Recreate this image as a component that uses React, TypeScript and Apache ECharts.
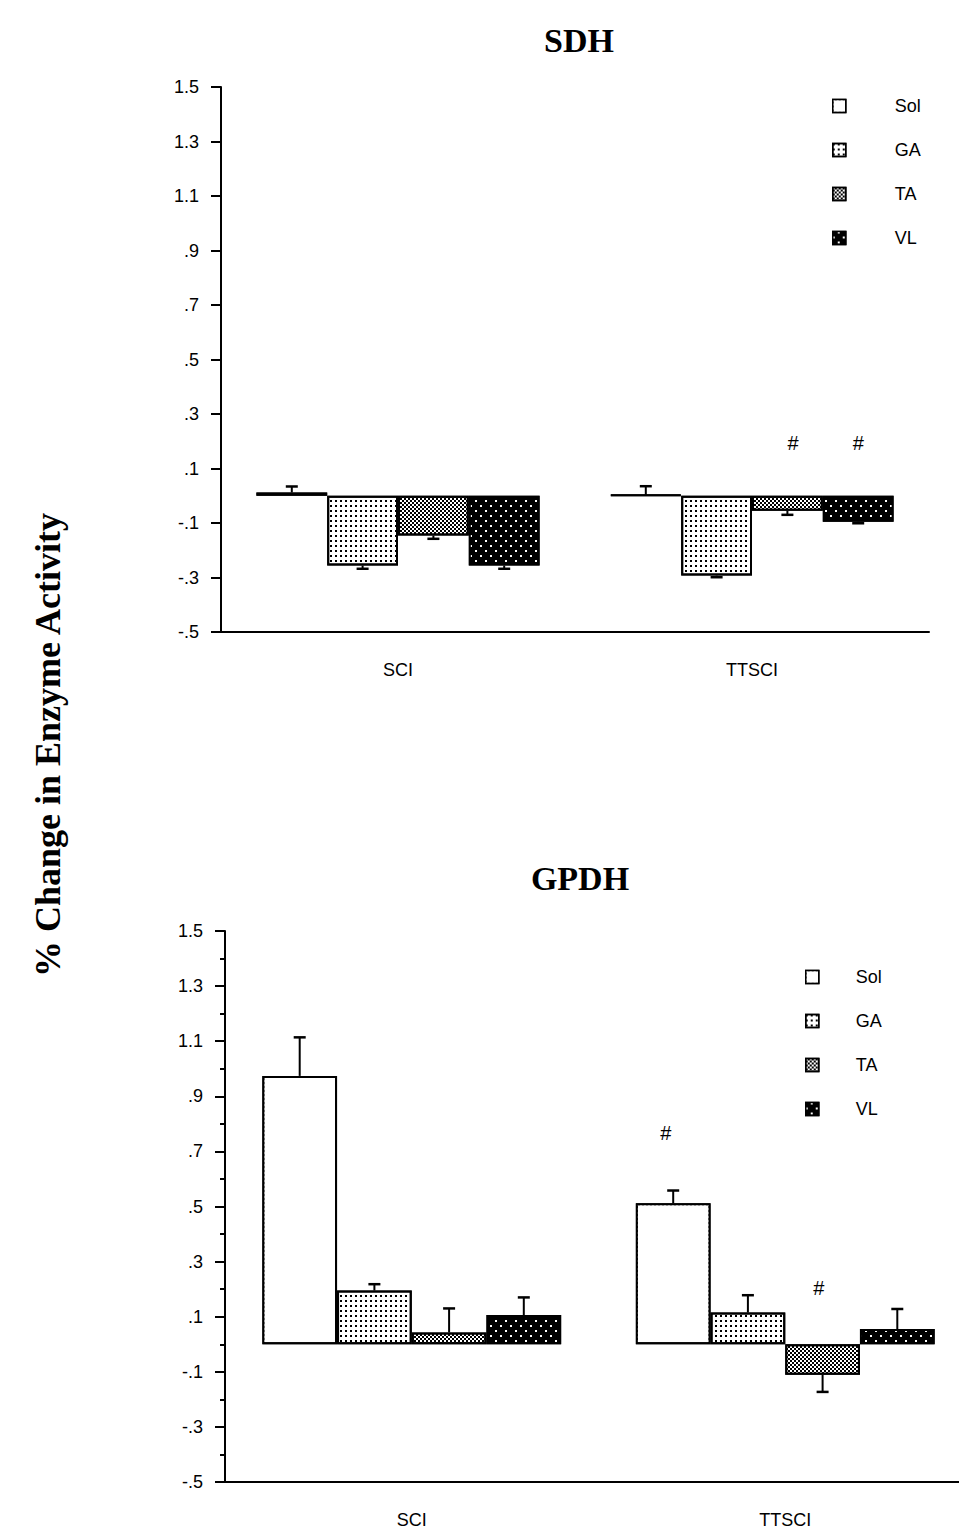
import React, { useEffect, useRef } from "react";
import * as echarts from "echarts";

const categories = ["SCI", "TTSCI"];
const muscles = ["Sol", "GA", "TA", "VL"];

// SDH (top panel)
const sdhSol = [0.012, 0.003];
const sdhGA = [-0.256, -0.293];
const sdhTA = [-0.146, -0.055];
const sdhVL = [-0.256, -0.095];
const sdhSolErr = [0.022, 0.032];
const sdhGAErr = [0.012, 0.006];
const sdhTAErr = [0.012, 0.015];
const sdhVLErr = [0.012, 0.006];
// [category index, bar slot (muscle index), y]
const sdhHash = [
  [1, 2.08, 0.195],
  [1, 3.0, 0.195],
];

// GPDH (bottom panel)
const gpdhSol = [0.974, 0.512];
const gpdhGA = [0.195, 0.115];
const gpdhTA = [0.043, -0.111];
const gpdhVL = [0.106, 0.055];
const gpdhSolErr = [0.14, 0.046];
const gpdhGAErr = [0.023, 0.063];
const gpdhTAErr = [0.087, 0.062];
const gpdhVLErr = [0.064, 0.073];
const gpdhHash = [
  [1, -0.1, 0.767],
  [1, 1.95, 0.205],
];

const SANS = "'Liberation Sans', Arial, Helvetica, sans-serif";
const SERIF = "'Liberation Serif', 'Times New Roman', serif";

const fills = ["#ffffff", "#ffffff", "#ffffff", "#000000"];
const decals: any[] = [
  { symbol: "rect", symbolSize: 1, dashArrayX: [2, 2], dashArrayY: [2, 2], color: "#fff", backgroundColor: "#fff", rotation: 0 },
  { symbol: "rect", symbolSize: 1, dashArrayX: [2, 3], dashArrayY: [2, 3], color: "#000", backgroundColor: "#fff", rotation: 0 },
  { symbol: "rect", symbolSize: 1, dashArrayX: [[2, 2], [0, 2, 2, 0]], dashArrayY: [2, 0], color: "#000", backgroundColor: "#fff", rotation: 0 },
  { symbol: "rect", symbolSize: 1, dashArrayX: [[2, 8], [0, 5, 2, 3]], dashArrayY: [2, 3], color: "#fff", backgroundColor: "#000", rotation: 0 },
];

const fmt = (v: number) => {
  const r = Math.round(v * 10) / 10;
  return r.toFixed(1).replace(/^(-?)0\./, "$1.");
};

const BAR_RATIO = 0.8;

function errData(vals: number[][], errs: number[][]) {
  const out: number[][] = [];
  for (let m = 0; m < vals.length; m++) {
    for (let c = 0; c < vals[m].length; c++) {
      out.push([c, vals[m][c], errs[m][c], m]);
    }
  }
  return out;
}

function errRender(params: any, api: any) {
  const cat = api.value(0);
  const v = api.value(1);
  const e = api.value(2);
  const m = api.value(3);
  const base = api.coord([cat, v]);
  const bw = api.size([1, 0])[0];
  const barW = (bw * BAR_RATIO) / 4;
  const x = base[0] + (m - 1.5) * barW;
  const end = api.coord([cat, v + (v >= 0 ? e : -e)]);
  return {
    type: "group",
    children: [
      { type: "line", shape: { x1: x, y1: base[1], x2: x, y2: end[1] }, style: { stroke: "#000", lineWidth: 2 } },
      { type: "line", shape: { x1: x - 6, y1: end[1], x2: x + 6, y2: end[1] }, style: { stroke: "#000", lineWidth: 2.5 } },
    ],
  };
}

function hashRender(params: any, api: any) {
  const cat = api.value(0);
  const m = api.value(1);
  const y = api.value(2);
  const p = api.coord([cat, y]);
  const bw = api.size([1, 0])[0];
  const barW = (bw * BAR_RATIO) / 4;
  const x = p[0] + (m - 1.5) * barW;
  return {
    type: "text",
    x,
    y: p[1],
    style: { text: "#", fill: "#000", font: `20px ${SANS}`, align: "center", verticalAlign: "middle" },
  };
}

export default function App() {
  const ref = useRef<HTMLDivElement>(null);
  useEffect(() => {
    if (!ref.current) return;
    const chart = echarts.init(ref.current, undefined, { renderer: "svg" });

    const grids = [
      { left: 221, top: 87, width: 708, height: 545 },
      { left: 225, top: 931, width: 747, height: 551 },
    ];

    const xAxes = grids.map((_, i) => ({
      type: "category",
      gridIndex: i,
      data: categories,
      axisLine: { onZero: false, lineStyle: { color: "#000", width: 2 } },
      axisTick: { alignWithLabel: true, length: 8, lineStyle: { color: "#000", width: 2 } },
      axisLabel: { color: "#000", fontSize: 18, fontFamily: SANS, margin: 29 },
      splitLine: { show: false },
    }));

    const yAxes = grids.map((_, i) => ({
      type: "value",
      gridIndex: i,
      min: -0.5,
      max: 1.5,
      interval: 0.2,
      axisLine: { show: true, lineStyle: { color: "#000", width: 2 } },
      axisTick: { show: true, length: 10, lineStyle: { color: "#000", width: 2 } },
      minorTick: i === 1 ? { show: true, splitNumber: 2, length: 5, lineStyle: { color: "#000", width: 2 } } : { show: false },
      axisLabel: { color: "#000", fontSize: 18, fontFamily: SANS, margin: 22, formatter: fmt },
      splitLine: { show: false },
      minorSplitLine: { show: false },
    }));

    const panelVals = [
      [sdhSol, sdhGA, sdhTA, sdhVL],
      [gpdhSol, gpdhGA, gpdhTA, gpdhVL],
    ];
    const panelErrs = [
      [sdhSolErr, sdhGAErr, sdhTAErr, sdhVLErr],
      [gpdhSolErr, gpdhGAErr, gpdhTAErr, gpdhVLErr],
    ];
    const panelHash = [sdhHash, gpdhHash];

    const series: any[] = [];
    for (let g = 0; g < 2; g++) {
      muscles.forEach((name, m) => {
        series.push({
          type: "bar",
          name,
          xAxisIndex: g,
          yAxisIndex: g,
          data: panelVals[g][m],
          barGap: "0%",
          barCategoryGap: "20%",
          itemStyle: { color: fills[m], borderColor: "#000", borderWidth: 2, decal: decals[m] },
          emphasis: { disabled: true },
        });
      });
      series.push({
        type: "custom",
        name: "err" + g,
        xAxisIndex: g,
        yAxisIndex: g,
        z: 5,
        encode: { x: 0, y: 1 },
        data: errData(panelVals[g], panelErrs[g]),
        renderItem: errRender,
        silent: true,
      });
      series.push({
        type: "custom",
        name: "hash" + g,
        xAxisIndex: g,
        yAxisIndex: g,
        z: 5,
        encode: { x: 0, y: 2 },
        data: panelHash[g],
        renderItem: hashRender,
        silent: true,
      });
    }

    const legendBase = {
      orient: "vertical",
      data: muscles,
      icon: "rect",
      itemWidth: 13,
      itemHeight: 13,
      itemGap: 26,
      selectedMode: false,
      itemStyle: { borderColor: "#000", borderWidth: 1.5 },
    };

    chart.setOption({
      animation: false,
      backgroundColor: "#fff",
      aria: { enabled: true, label: { enabled: false }, decal: { show: true } },
      title: [
        { text: "SDH", left: 574, top: 18, textAlign: "center", textStyle: { fontFamily: SERIF, fontWeight: "bold", fontSize: 34, color: "#000" } },
        { text: "GPDH", left: 575, top: 856, textAlign: "center", textStyle: { fontFamily: SERIF, fontWeight: "bold", fontSize: 34, color: "#000" } },
      ],
      legend: [
        { ...legendBase, left: 827, top: 92, textStyle: { fontSize: 18, fontFamily: SANS, color: "#000", padding: [0, 0, 0, 44] } },
        { ...legendBase, left: 800, top: 963, textStyle: { fontSize: 18, fontFamily: SANS, color: "#000", padding: [0, 0, 0, 32] } },
      ],
      grid: grids,
      xAxis: xAxes,
      yAxis: yAxes,
      graphic: [
        {
          type: "text",
          x: 48,
          y: 745,
          rotation: Math.PI / 2,
          style: {
            text: "% Change in Enzyme Activity",
            font: `bold 36px ${SERIF}`,
            fill: "#000",
            align: "center",
            verticalAlign: "middle",
          },
        },
      ],
      series,
    });

    return () => chart.dispose();
  }, []);

  return (
    <div style={{ position: "absolute", left: 0, top: 0, width: 959, height: 1534, overflow: "hidden", background: "#fff" }}>
      <div ref={ref} style={{ width: 990, height: 1534 }} />
    </div>
  );
}
